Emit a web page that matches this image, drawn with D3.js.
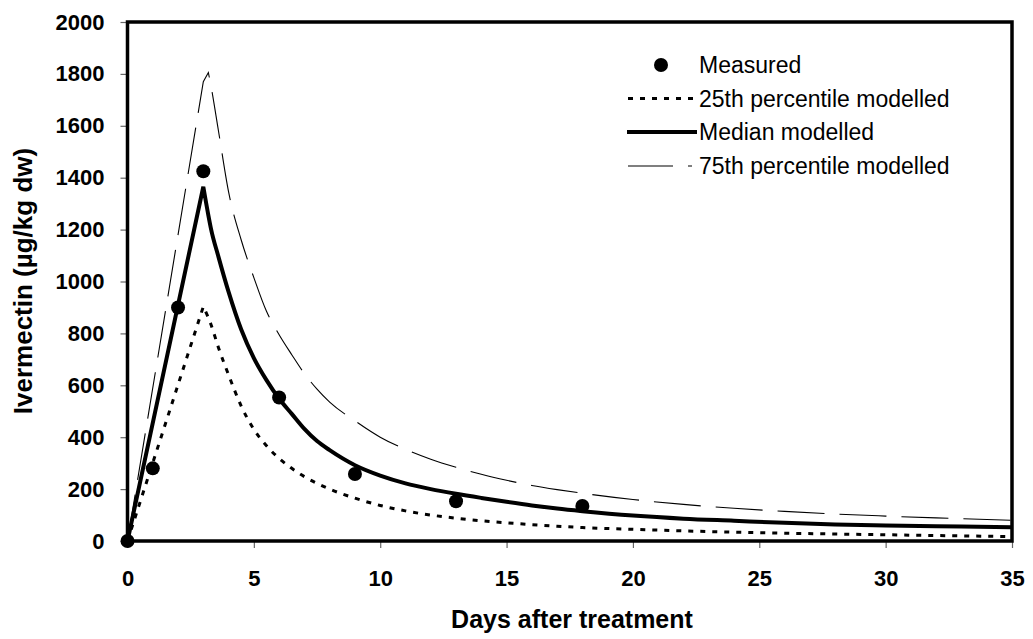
<!DOCTYPE html>
<html>
<head>
<meta charset="utf-8">
<script src="https://cdn.jsdelivr.net/npm/d3@7"></script>
<style>
  html, body { margin: 0; padding: 0; background: #fff; }
  svg { display: block; }
  text { font-family: Arial, "Liberation Sans", sans-serif; fill: #000; }
</style>
</head>
<body>
<svg id="chart" width="1033" height="639"></svg>
<script>
// ---- data ----
const measuredDays   = [0, 1, 2, 3, 6, 9, 13, 18];
const measuredValues = [0, 280, 900, 1425, 553, 258, 153, 135];

const modelDays    = [0, 3, 3.2, 3.3, 3.6, 4, 4.5, 5, 5.5, 6, 6.5, 7, 7.5, 8, 9, 10, 11, 12, 13, 14, 15, 16, 17, 18, 20, 22, 24, 26, 28, 30, 32, 35];
const p25Values    = [0, 903, 860, 835, 745, 640, 520, 430, 367, 318, 280, 248, 222, 200, 165, 137, 116, 100, 88, 78, 70, 63, 57, 52, 45, 39, 34, 30, 27, 24, 21, 17];
const medianValues = [0, 1365, 1255, 1205, 1095, 960, 815, 705, 620, 548, 490, 432, 385, 350, 292, 252, 222, 200, 182, 166, 151, 137, 125, 115, 98, 86, 78, 70, 64, 60, 57, 53];
const p75Values    = [0, 1770, 1805, 1755, 1580, 1345, 1160, 1015, 885, 795, 718, 645, 585, 535, 463, 400, 353, 315, 284, 257, 234, 214, 198, 184, 160, 141, 126, 114, 104, 96, 89, 80];
// index in modelDays where the linear rise ends (peak) for each series
const p25Peak = 1, medianPeak = 1, p75Peak = 2;

const xTicks = [0, 5, 10, 15, 20, 25, 30, 35];
const yTicks = [0, 200, 400, 600, 800, 1000, 1200, 1400, 1600, 1800, 2000];

const legendLabels = ["Measured", "25th percentile modelled", "Median modelled", "75th percentile modelled"];
const xTitle = "Days after treatment";
const yTitle = "Ivermectin (µg/kg dw)";

// ---- layout ----
const svg = d3.select("#chart");
const L = 127.5, R = 1012, T = 22, B = 541;
const x = d3.scaleLinear().domain([0, 35]).range([L, R]);
const y = d3.scaleLinear().domain([0, 2000]).range([B, T]);

svg.append("rect").attr("width", 1033).attr("height", 639).attr("fill", "#fff");

// axes with ticks
const gy = svg.append("g").attr("transform", `translate(${L},0)`)
  .call(d3.axisLeft(y).tickValues(yTicks).tickSize(7).tickPadding(16).tickFormat(d3.format("d")));
const gx = svg.append("g").attr("transform", `translate(0,${B})`)
  .call(d3.axisBottom(x).tickValues(xTicks).tickSize(7).tickPadding(22).tickFormat(d3.format("d")));
[gy, gx].forEach(g => {
  g.select(".domain").remove();
  g.selectAll(".tick line").attr("stroke", "#666").attr("stroke-width", 1.2);
  g.selectAll(".tick text").style("font-family", "Arial, 'Liberation Sans', sans-serif")
    .style("font-size", "22px").style("font-weight", "bold").attr("fill", "#000");
});

// plot frame
svg.append("rect").attr("x", L).attr("y", T).attr("width", R - L).attr("height", B - T)
  .attr("fill", "none").attr("stroke", "#000").attr("stroke-width", 3.5);

// modelled curves: linear rise to the peak, smooth decay afterwards
function curvePath(vals, peakIdx) {
  const pts = modelDays.map((d, i) => [x(d), y(vals[i])]);
  const rise = d3.line().curve(d3.curveLinear)(pts.slice(0, peakIdx + 1));
  const decay = d3.line().curve(d3.curveMonotoneX)(pts.slice(peakIdx));
  return rise + "L" + decay.slice(1);
}

svg.append("path").attr("d", curvePath(p25Values, p25Peak))
  .attr("fill", "none").attr("stroke", "#000").attr("stroke-width", 3).attr("stroke-dasharray", "5,7");
svg.append("path").attr("d", curvePath(p75Values, p75Peak))
  .attr("fill", "none").attr("stroke", "#000").attr("stroke-width", 1.1).attr("stroke-dasharray", "47,15");
svg.append("path").attr("d", curvePath(medianValues, medianPeak))
  .attr("fill", "none").attr("stroke", "#000").attr("stroke-width", 4).attr("stroke-linejoin", "miter");

// measured points
svg.append("g").selectAll("circle").data(measuredDays).join("circle")
  .attr("cx", d => x(d)).attr("cy", (d, i) => y(measuredValues[i])).attr("r", 7).attr("fill", "#000");

// legend
const rows = [65, 98.5, 132, 166];
const lg = svg.append("g");
lg.append("circle").attr("cx", 661).attr("cy", rows[0]).attr("r", 7).attr("fill", "#000");
lg.append("line").attr("x1", 628).attr("x2", 697).attr("y1", rows[1]).attr("y2", rows[1])
  .attr("stroke", "#000").attr("stroke-width", 3).attr("stroke-dasharray", "5,7");
lg.append("line").attr("x1", 627).attr("x2", 697).attr("y1", rows[2]).attr("y2", rows[2])
  .attr("stroke", "#000").attr("stroke-width", 4);
lg.append("line").attr("x1", 628).attr("x2", 692).attr("y1", rows[3]).attr("y2", rows[3])
  .attr("stroke", "#000").attr("stroke-width", 1.1).attr("stroke-dasharray", "45,15");
lg.selectAll("text.lab").data(legendLabels).join("text").attr("class", "lab")
  .attr("x", 699).attr("y", (d, i) => rows[i] + 8)
  .style("font-size", "23px").text(d => d);

// axis titles
svg.append("text").attr("x", 572).attr("y", 628).attr("text-anchor", "middle")
  .style("font-size", "25px").style("font-weight", "bold").text(xTitle);
svg.append("text").attr("transform", "translate(32,281) rotate(-90)").attr("text-anchor", "middle")
  .style("font-size", "26px").style("font-weight", "bold").text(yTitle);
</script>
</body>
</html>
